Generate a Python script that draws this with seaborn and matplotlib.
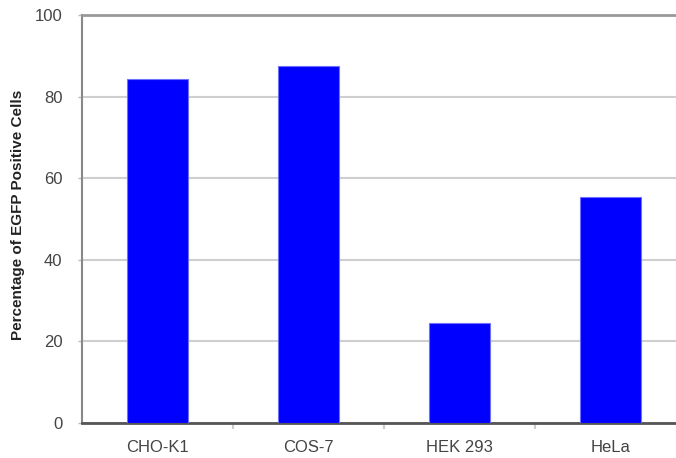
import pandas as pd
import matplotlib.pyplot as plt
import seaborn as sns

# -----------------------------
# Data
# -----------------------------
cell_lines = ["CHO-K1", "COS-7", "HEK 293", "HeLa"]
egfp_positive = [84.3, 87.4, 24.4, 55.4]
y_ticks = [0, 20, 40, 60, 80, 100]

df = pd.DataFrame({"cell": cell_lines, "pct": egfp_positive})

sns.set_style("white")
plt.rcParams["font.family"] = ["Liberation Sans", "DejaVu Sans"]

fig = plt.figure(figsize=(6.76, 4.58), dpi=100)
ax = fig.add_axes([82 / 676, 35 / 458, 594 / 676, 408 / 458])

sns.barplot(
    data=df,
    x="cell",
    y="pct",
    color="#0000ff",
    saturation=1,
    width=0.41,
    edgecolor="#7070ff",
    linewidth=0.8,
    ax=ax,
    zorder=3,
)

# -----------------------------
# Axes styling
# -----------------------------
ax.set_ylim(0, 100)
ax.set_xlim(-0.5, -0.5 + 594 / 151)
ax.set_yticks(y_ticks)
ax.yaxis.grid(True, color="#cfcfcf", linewidth=1.5, zorder=0)
ax.set_axisbelow(True)

ax.spines["top"].set_visible(True)
ax.spines["top"].set_color("#999999")
ax.spines["top"].set_linewidth(2)
ax.spines["right"].set_visible(False)
ax.spines["left"].set_color("#888888")
ax.spines["left"].set_linewidth(1.5)
ax.spines["bottom"].set_color("#555555")
ax.spines["bottom"].set_linewidth(2)

ax.tick_params(axis="y", length=3, width=1, color="#bbbbbb", pad=11,
               labelsize=12, labelcolor="#444444", left=True)
ax.tick_params(axis="x", length=0, pad=12, labelsize=12, labelcolor="#444444")
ax.set_xticks([0.5, 1.5, 2.5], minor=True)
ax.tick_params(axis="x", which="minor", length=4, width=1.5, color="#cccccc", bottom=True)

ax.set_xlabel("")
ax.set_ylabel("Percentage of EGFP Positive Cells", fontsize=11,
              fontweight="bold", color="#222222")
ax.yaxis.set_label_coords(-0.096, 0.51)

plt.savefig("out.png", dpi=100)
plt.close()
